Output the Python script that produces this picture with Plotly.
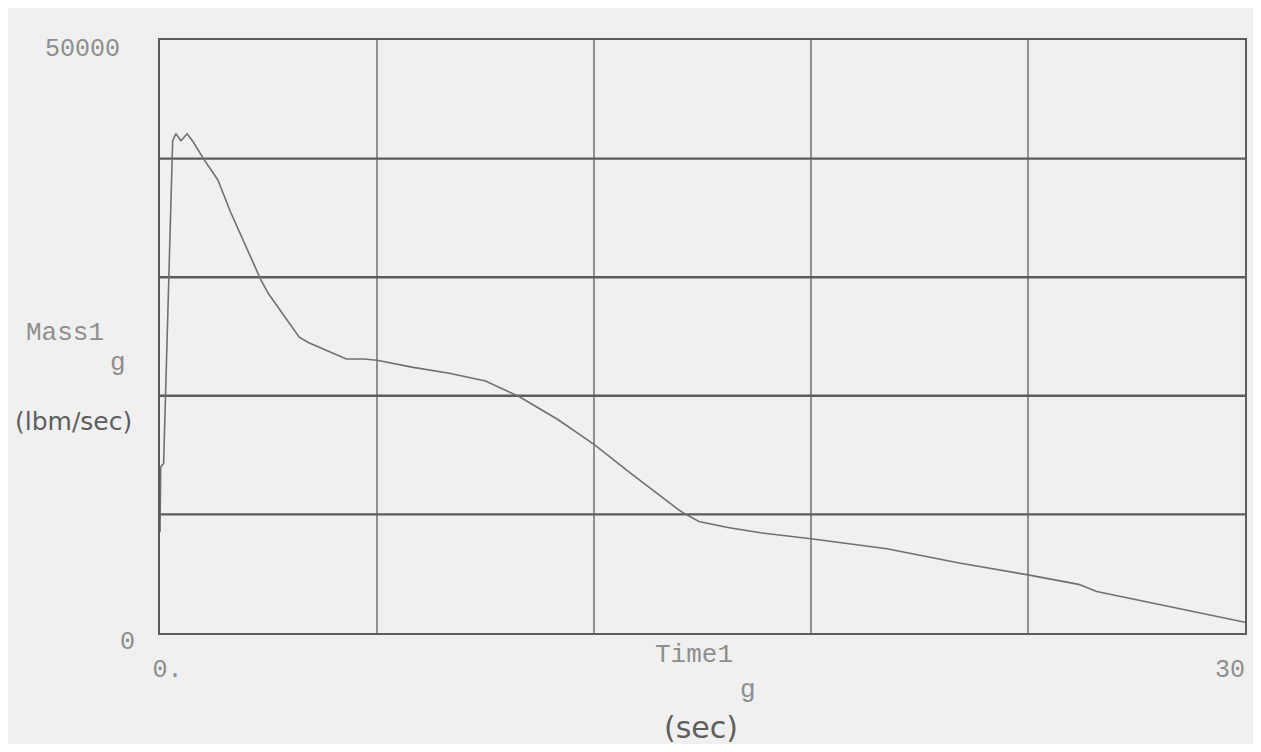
import plotly.graph_objects as go

# ---- data ----
time_s = [0.0, 0.02, 0.1, 0.35, 0.44, 0.58, 0.75, 0.92, 1.2, 1.6, 1.95, 2.8, 3.0,
          3.85, 4.1, 5.15, 5.64, 6.0, 7.0, 8.0, 9.0, 9.95, 11.0, 12.0, 13.0, 14.4,
          14.9, 15.7, 16.6, 18.0, 20.1, 22.1, 24.0, 25.4, 25.9, 27.6, 30.0]
mass_flow = [8500, 14000, 14300, 41500, 42100, 41500, 42100, 41400, 40000, 38200,
             35500, 29700, 28600, 24950, 24500, 23100, 23100, 23000, 22400, 21900,
             21250, 19900, 18000, 15900, 13500, 10250, 9400, 8900, 8450, 7950, 7100,
             5900, 4900, 4100, 3500, 2400, 900]

x_ticks = [0, 30]
x_ticktext = ["\u00a0\u00a0\u00a00.", "30"]
y_ticks = [0, 50000]
y_ticktext = ["0", "50000\u00a0"]
x_grid = [0, 6, 12, 18, 24, 30]
y_grid = [0, 10000, 20000, 30000, 40000, 50000]

paper = "#f0f0f0"
grid_col = "#5c5c5c"
curve_col = "#707070"
type_col = "#8e8e8e"
hand_col = "#5e5e5e"
mono = "Liberation Mono"
hand = "DejaVu Sans"

fig = go.Figure()
fig.add_trace(go.Scatter(x=time_s, y=mass_flow, mode="lines",
                         line=dict(color=curve_col, width=1.6),
                         showlegend=False, hoverinfo="skip"))

fig.update_xaxes(range=[0, 30], tickvals=x_ticks, ticktext=x_ticktext,
                 showgrid=False, zeroline=False, showline=True, mirror=True,
                 linecolor=grid_col, linewidth=2, ticks="", automargin=False,
                 tickfont=dict(family=mono, size=25, color=type_col),
                 ticklabelstandoff=12, ticklabelshift=-15,
                 ticklabeloverflow="allow")
fig.update_yaxes(range=[0, 50000], tickvals=y_ticks, ticktext=y_ticktext,
                 showgrid=False, zeroline=False, showline=True, mirror=True,
                 linecolor=grid_col, linewidth=2, ticks="", automargin=False,
                 tickfont=dict(family=mono, size=25, color=type_col),
                 ticklabelstandoff=18, ticklabelshift=7,
                 ticklabeloverflow="allow")

# grid lines drawn on the data scale
for gx in x_grid[1:-1]:
    fig.add_shape(type="line", xref="x", yref="y", x0=gx, x1=gx, y0=0, y1=50000,
                  line=dict(color=grid_col, width=1.3), layer="below")
for gy in y_grid[1:-1]:
    fig.add_shape(type="line", xref="x", yref="y", x0=0, x1=30, y0=gy, y1=gy,
                  line=dict(color=grid_col, width=2.4), layer="below")

ann = [
    dict(text="Mass1", x=-0.0876, y=0.506, font=dict(family=mono, size=26, color=type_col)),
    dict(text="g", x=-0.0387, y=0.455, font=dict(family=mono, size=26, color=type_col)),
    dict(text="(lbm/sec)", x=-0.080, y=0.356,
         font=dict(family=hand, size=25, color=hand_col)),
    dict(text="Time1", x=0.492, y=-0.037, font=dict(family=mono, size=26, color=type_col)),
    dict(text="g", x=0.542, y=-0.096, font=dict(family=mono, size=26, color=type_col)),
    dict(text="(sec)", x=0.4986, y=-0.160,
         font=dict(family=hand, size=30, color=hand_col)),
]
for a in ann:
    fig.add_annotation(xref="paper", yref="paper", showarrow=False,
                       xanchor="center", yanchor="middle", **a)

fig.update_layout(width=1245, height=736, paper_bgcolor=paper, plot_bgcolor=paper,
                  margin=dict(l=152, r=8, t=32, b=111, autoexpand=False),
                  showlegend=False)

fig.write_html("out.html")
